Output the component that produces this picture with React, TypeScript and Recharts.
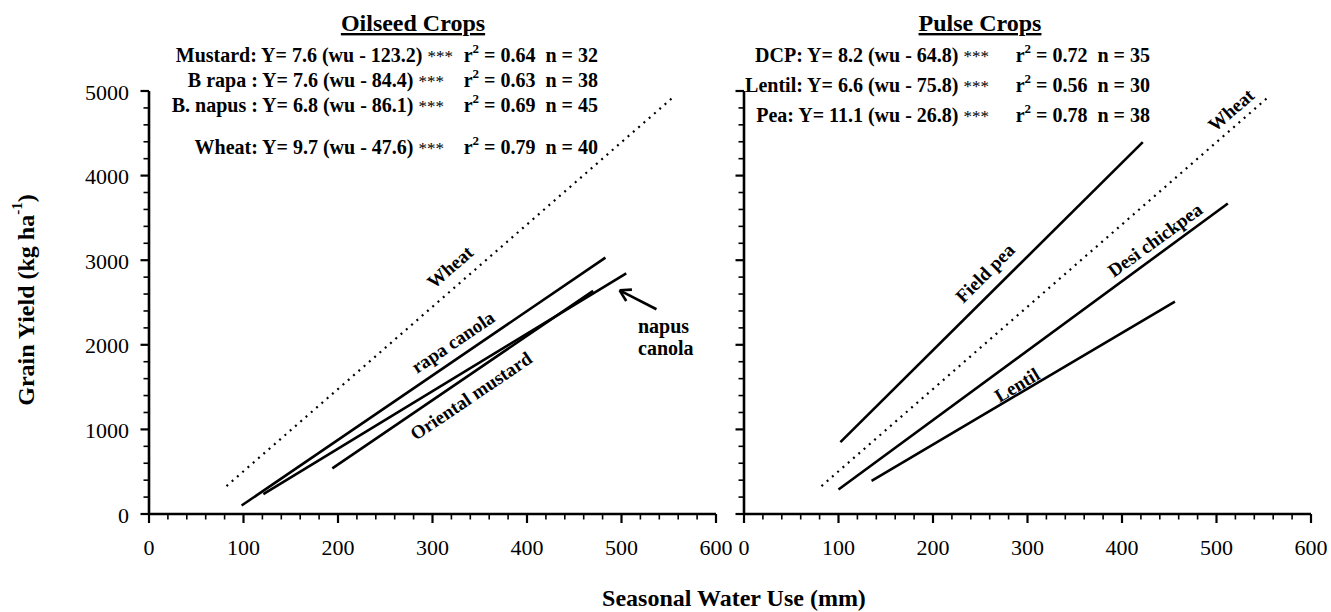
import { LineChart, Line, XAxis, YAxis, ReferenceLine } from "recharts";

const serif = "'Liberation Serif', 'Times New Roman', Times, serif";

// axis ticks (minor every 20 mm / 200 kg, labels on the hundreds / thousands)
const xTicks = [
  0, 20, 40, 60, 80, 100, 120, 140, 160, 180, 200, 220, 240, 260, 280, 300,
  320, 340, 360, 380, 400, 420, 440, 460, 480, 500, 520, 540, 560, 580, 600
];
const yTicks = [
  0, 200, 400, 600, 800, 1000, 1200, 1400, 1600, 1800, 2000, 2200, 2400, 2600,
  2800, 3000, 3200, 3400, 3600, 3800, 4000, 4200, 4400, 4600, 4800, 5000
];

// fitted lines: wu = seasonal water use (mm), yld = kg/ha
const oilWheat = [{ wu: 82, yld: 330 }, { wu: 555, yld: 4930 }];
const rapaCanola = [{ wu: 98, yld: 100 }, { wu: 483, yld: 3030 }];
const napusCanola = [{ wu: 121, yld: 235 }, { wu: 505, yld: 2845 }];
const orientalMustard = [{ wu: 194, yld: 540 }, { wu: 470, yld: 2638 }];

const pulseWheat = [{ wu: 82, yld: 330 }, { wu: 555, yld: 4930 }];
const fieldPea = [{ wu: 102, yld: 850 }, { wu: 422, yld: 4395 }];
const desiChickpea = [{ wu: 100, yld: 290 }, { wu: 512, yld: 3670 }];
const lentil = [{ wu: 135, yld: 392 }, { wu: 456, yld: 2510 }];

// arrow pointing at the napus line (x = water use, y = yield)
const napusArrow = [{ x: 537, y: 2420 }, { x: 498, y: 2644 }];
const napusArrowHeadA = [{ x: 498, y: 2644 }, { x: 511, y: 2652 }];
const napusArrowHeadB = [{ x: 498, y: 2644 }, { x: 505, y: 2518 }];

const oilEquations = [
  { lead: "Mustard: Y= 7.6 (wu - 123.2) ", r2: "0.64", n: "32" },
  { lead: "B rapa : Y= 7.6 (wu - 84.4) ", r2: "0.63", n: "38" },
  { lead: "B. napus : Y= 6.8 (wu - 86.1) ", r2: "0.69", n: "45" },
  { lead: "Wheat: Y= 9.7 (wu - 47.6) ", r2: "0.79", n: "40" }
];
const pulseEquations = [
  { lead: "DCP: Y= 8.2 (wu - 64.8) ", r2: "0.72", n: "35" },
  { lead: "Lentil: Y= 6.6 (wu - 75.8) ", r2: "0.56", n: "30" },
  { lead: "Pea: Y= 11.1 (wu - 26.8) ", r2: "0.78", n: "38" }
];

const XTick = (props: any) => {
  const { x, y, payload } = props;
  const major = payload.value % 100 === 0;
  return (
    <g>
      <line
        stroke="#000"
        strokeWidth={major ? 2.2 : 1.6}
        x1={x}
        x2={x}
        y1={y}
        y2={y + (major ? 9 : 5.5)}
      />
      {major && (
        <text
          fill="#000"
          fontFamily={serif}
          fontSize={22}
          textAnchor="middle"
          x={x}
          y={y + 41}
        >
          {payload.value}
        </text>
      )}
    </g>
  );
};

const makeYTick = (showLabel: boolean) => (props: any) => {
  const { x, y, payload } = props;
  const major = payload.value % 1000 === 0;
  return (
    <g>
      <line
        stroke="#000"
        strokeWidth={major ? 2.2 : 1.6}
        x1={x - (major ? 8.5 : 5.5)}
        x2={x}
        y1={y}
        y2={y}
      />
      {showLabel && major && (
        <text
          dominantBaseline="central"
          fill="#000"
          fontFamily={serif}
          fontSize={22}
          textAnchor="end"
          x={x - 20}
          y={y + 1}
        >
          {payload.value}
        </text>
      )}
    </g>
  );
};

const solid = (data: { wu: number; yld: number }[], key: string) => (
  <Line
    activeDot={false}
    data={data}
    dataKey="yld"
    dot={false}
    isAnimationActive={false}
    key={key}
    stroke="#000"
    strokeWidth={2.6}
    type="linear"
  />
);

const dotted = (data: { wu: number; yld: number }[], key: string) => (
  <Line
    activeDot={false}
    data={data}
    dataKey="yld"
    dot={false}
    isAnimationActive={false}
    key={key}
    stroke="#000"
    strokeDasharray="2 5"
    strokeWidth={2.2}
    type="linear"
  />
);

const axisProps = {
  axisLine: { stroke: "#000", strokeWidth: 2.6 },
  tickLine: false,
  tickSize: 0,
  tickMargin: 0,
  interval: 0 as const
};

const Equation = ({
  eq,
  leadEnd,
  end,
  y
}: {
  eq: { lead: string; r2: string; n: string };
  leadEnd: number;
  end: number;
  y: number;
}) => (
  <g fontFamily={serif} fontSize={20} fontWeight="bold">
    <text textAnchor="end" x={leadEnd} xmlSpace="preserve" y={y}>
      {eq.lead}
      <tspan fontSize={17} fontWeight="normal">***</tspan>
    </text>
    <text textAnchor="end" x={end} xmlSpace="preserve" y={y}>
      r<tspan dy={-9} fontSize={13}>2</tspan>
      <tspan dy={9}>{` = ${eq.r2}  n = ${eq.n}`}</tspan>
    </text>
  </g>
);

const RotLabel = ({ x, y, angle, text, size = 19 }: any) => (
  <text
    dominantBaseline="central"
    fontFamily={serif}
    fontSize={size}
    fontWeight="bold"
    textAnchor="middle"
    transform={`rotate(${-angle} ${x} ${y})`}
    x={x}
    y={y}
  >
    {text}
  </text>
);

export default function App() {
  return (
    <div style={{ position: "absolute", left: 0, top: 0, width: 1331, height: 612, background: "#fff" }}>
      <div style={{ position: "absolute", left: 0, top: 0 }}>
        <LineChart
          height={612}
          margin={{ top: 91, right: 24, bottom: 68, left: 0 }}
          width={740}
        >
          <XAxis
            {...axisProps}
            allowDataOverflow
            dataKey="wu"
            domain={[0, 600]}
            height={30}
            tick={<XTick />}
            ticks={xTicks}
            type="number"
          />
          <YAxis
            {...axisProps}
            domain={[0, 5000]}
            tick={makeYTick(true)}
            ticks={yTicks}
            type="number"
            width={149}
          />
          {dotted(oilWheat, "oilWheat")}
          {solid(rapaCanola, "rapa")}
          {solid(napusCanola, "napus")}
          {solid(orientalMustard, "mustard")}
          <ReferenceLine ifOverflow="visible" segment={napusArrow} stroke="#000" strokeWidth={2.6} />
          <ReferenceLine ifOverflow="visible" segment={napusArrowHeadA} stroke="#000" strokeWidth={2.6} />
          <ReferenceLine ifOverflow="visible" segment={napusArrowHeadB} stroke="#000" strokeWidth={2.6} />
        </LineChart>
      </div>
      <div style={{ position: "absolute", left: 730, top: 0 }}>
        <LineChart
          height={612}
          margin={{ top: 91, right: 20, bottom: 68, left: 0 }}
          width={601}
        >
          <XAxis
            {...axisProps}
            allowDataOverflow
            dataKey="wu"
            domain={[0, 600]}
            height={30}
            tick={<XTick />}
            ticks={xTicks}
            type="number"
          />
          <YAxis
            {...axisProps}
            domain={[0, 5000]}
            tick={makeYTick(false)}
            ticks={yTicks}
            type="number"
            width={14}
          />
          {dotted(pulseWheat, "pulseWheat")}
          {solid(fieldPea, "pea")}
          {solid(desiChickpea, "dcp")}
          {solid(lentil, "lentil")}
        </LineChart>
      </div>
      <svg
        height={612}
        style={{ position: "absolute", left: 0, top: 0, pointerEvents: "none" }}
        width={1331}
      >
        <g fill="#000">
          <text
            fontFamily={serif}
            fontSize={24}
            fontWeight="bold"
            style={{ textDecoration: "underline" }}
            textAnchor="middle"
            x={413}
            y={31}
          >
            Oilseed Crops
          </text>
          <text
            fontFamily={serif}
            fontSize={24}
            fontWeight="bold"
            style={{ textDecoration: "underline" }}
            textAnchor="middle"
            x={980}
            y={31}
          >
            Pulse Crops
          </text>

          <Equation end={598} eq={oilEquations[0]} leadEnd={453} y={62} />
          <Equation end={598} eq={oilEquations[1]} leadEnd={444} y={87} />
          <Equation end={598} eq={oilEquations[2]} leadEnd={444} y={112} />
          <Equation end={598} eq={oilEquations[3]} leadEnd={444} y={154} />

          <Equation end={1150} eq={pulseEquations[0]} leadEnd={989} y={62} />
          <Equation end={1150} eq={pulseEquations[1]} leadEnd={989} y={92} />
          <Equation end={1150} eq={pulseEquations[2]} leadEnd={989} y={122} />

          <RotLabel angle={41} text="Wheat" x={450} y={267} />
          <RotLabel angle={34} text="rapa canola" x={453} y={342} />
          <RotLabel angle={34} text="Oriental mustard" x={471} y={396} />
          <text fontFamily={serif} fontSize={20} fontWeight="bold" x={638} y={333}>
            napus
          </text>
          <text fontFamily={serif} fontSize={20} fontWeight="bold" x={638} y={355}>
            canola
          </text>

          <RotLabel angle={41} text="Wheat" x={1231} y={110} />
          <RotLabel angle={45} text="Field pea" x={985} y={273} />
          <RotLabel angle={36} text="Desi chickpea" x={1155} y={240} />
          <RotLabel angle={31} text="Lentil" x={1017} y={385} />

          <text
            dominantBaseline="central"
            fontFamily={serif}
            fontSize={24}
            fontWeight="bold"
            textAnchor="middle"
            transform="rotate(-90 26 300)"
            x={26}
            y={300}
          >
            Grain Yield (kg ha<tspan dy={-9} fontSize={15}>-1</tspan>
            <tspan dy={9}>)</tspan>
          </text>
          <text
            fontFamily={serif}
            fontSize={24}
            fontWeight="bold"
            textAnchor="middle"
            x={734}
            y={606}
          >
            Seasonal Water Use (mm)
          </text>
        </g>
      </svg>
    </div>
  );
}
